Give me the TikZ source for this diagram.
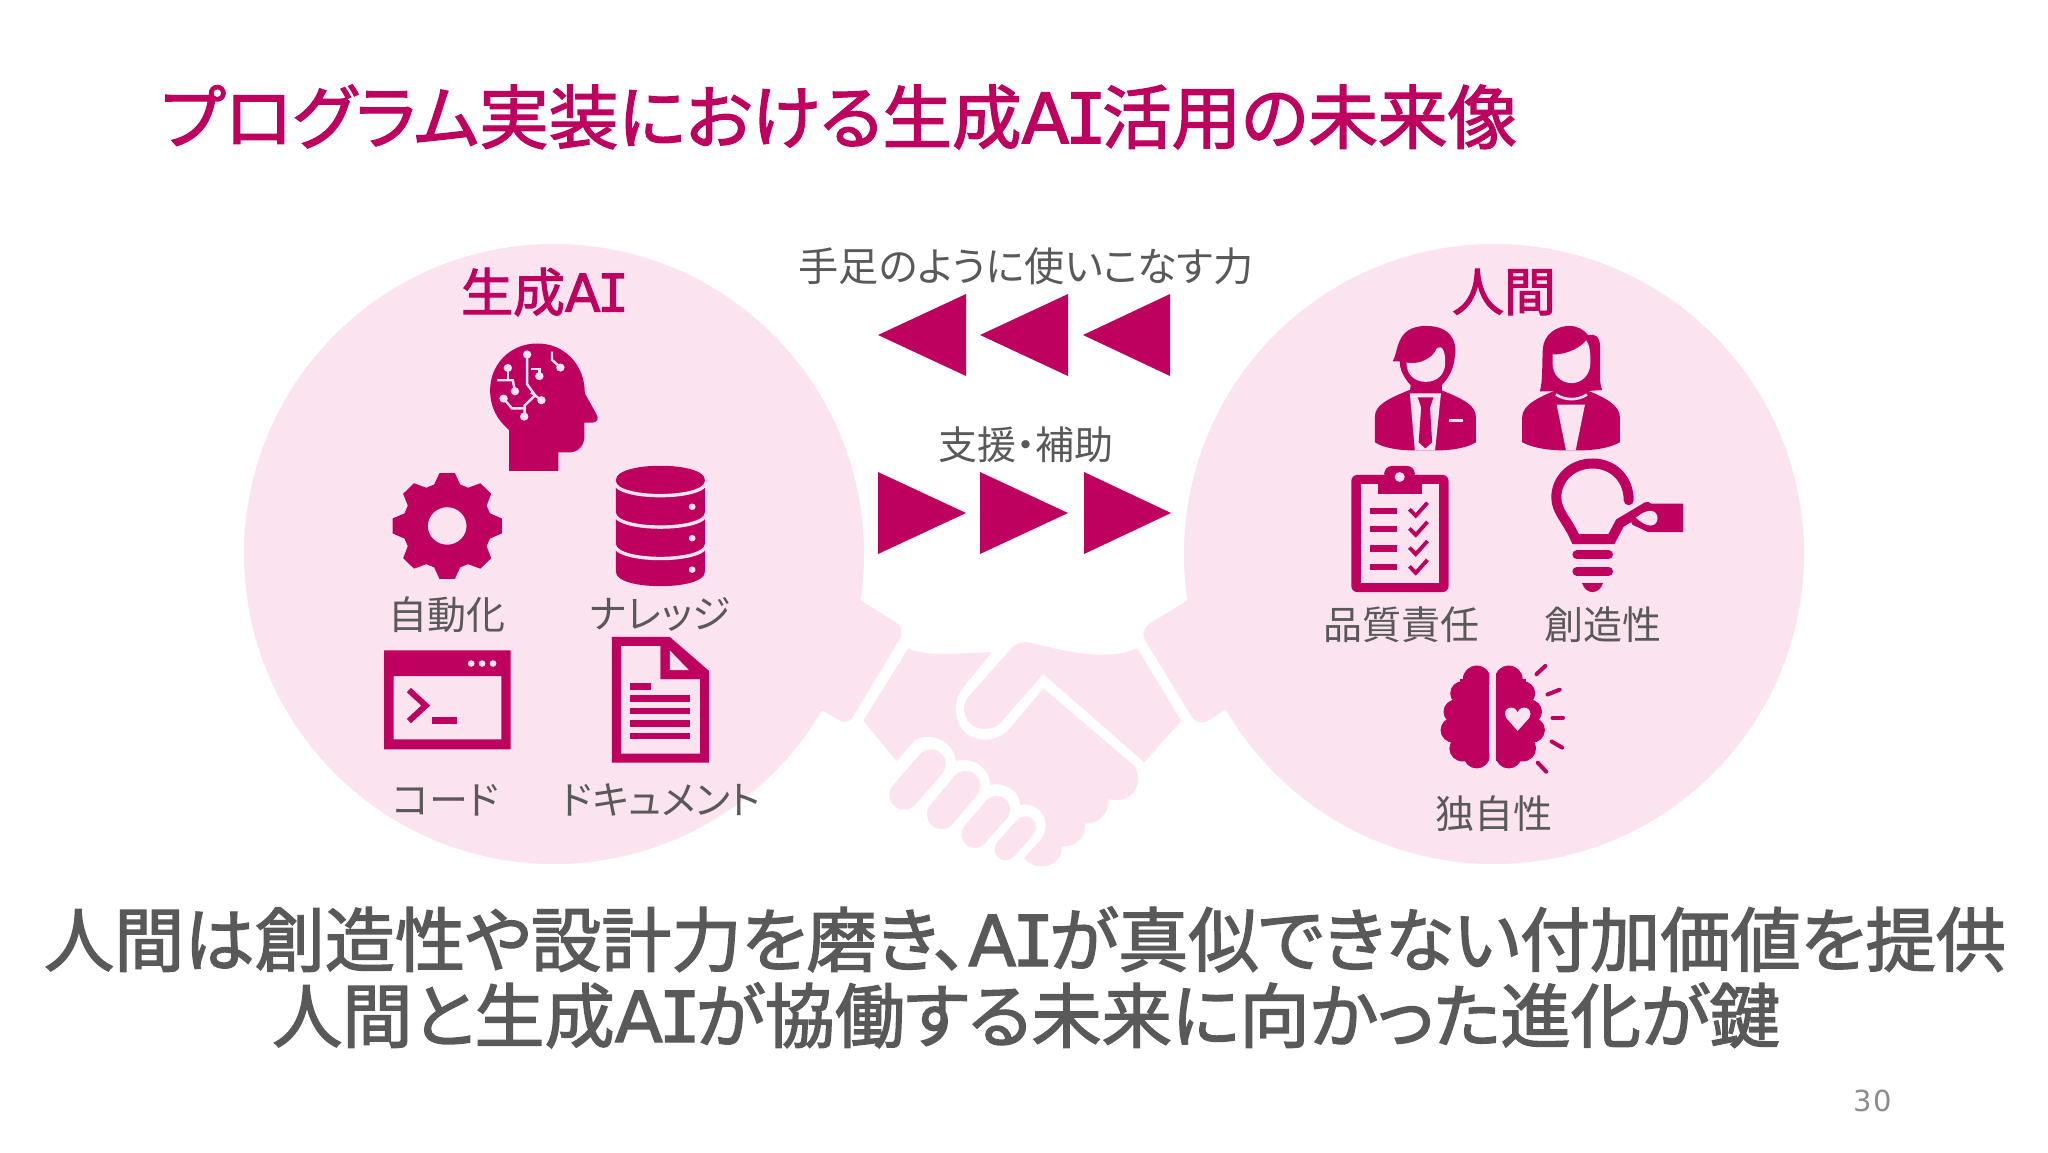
\documentclass[tikz,border=0pt]{standalone}
\usepackage{fontspec}
\setmainfont[RawFeature={+palt}]{Noto Sans CJK JP}
\newfontfamily\jpb[RawFeature={+palt},FakeBold=2]{Noto Sans CJK JP}
\newfontfamily\latb[FakeBold=2]{DejaVu Sans}
\newfontfamily\monb[FakeBold=2]{DejaVu Sans Mono}
\newfontfamily\numf[LetterSpace=6]{DejaVu Sans}
\newcommand{\AIword}{{\latb A\monb\kern-0.06em I\kern-0.07em}}
\definecolor{mag}{HTML}{BE005E}
\definecolor{pale}{HTML}{FCE3F0}
\definecolor{ink}{HTML}{595959}
\definecolor{pageno}{HTML}{8C8C8C}
\tikzset{
  px/.style={x=0.5pt,y=-0.5pt},
  zoomA/.style={shift={(230,230)},xscale=0.4209,yscale=0.4082},
  zoomB/.style={shift={(1180,230)},xscale=0.4209,yscale=0.4082},
  zoomC/.style={shift={(800,600)},scale=0.33333},
  txt/.style={inner sep=0pt,outer sep=0pt,anchor=center},
  titletxt/.style={txt,text=mag,font=\fontsize{34.8}{40}\selectfont\jpb},
  headtxt/.style={txt,text=mag,font=\fontsize{26}{30}\selectfont\jpb},
  labeltxt/.style={txt,text=ink,font=\fontsize{19.5}{24}\selectfont},
  bigtxt/.style={txt,text=ink,text height=30pt,text depth=6pt,font=\fontsize{35.1}{40}\selectfont\jpb},
  icon/.style={fill=mag,draw=none},
  hole/.style={fill=pale,draw=none},
  soft/.style={fill=pale,draw=none},
  ray/.style={draw=mag,line width=2pt,line cap=round},
  trace/.style={draw=pale,line width=1.2pt},
  finger/.style={draw=pale,line cap=round},
}
\begin{document}
\begin{tikzpicture}[px]
\useasboundingbox (0,0) rectangle (2048,1152);
\fill[white] (0,0) rectangle (2048,1152);

% circles
\fill[soft] (554,554) circle (310);
\fill[soft] (1494,554) circle (310);

% handshake
\begin{scope}[zoomC]
\fill[soft] (180,0) -- (285,65) .. controls (305,78) and (310,95) .. (300,115) -- (165,340) .. controls (155,362) and (140,372) .. (120,362) -- (65,330) -- (0,425) -- (-30,200) -- cycle;
\fill[soft] (1165,0) -- (1050,70) .. controls (1030,85) and (1025,100) .. (1035,120) -- (1175,350) .. controls (1190,370) and (1205,372) .. (1225,362) -- (1280,325) -- (1400,200) -- cycle;
\fill[soft] (1012,145) -- (1143,362) -- (1033,487) -- (730,222) -- (600,370) .. controls (580,392) and (530,395) .. (505,365) .. controls (485,340) and (490,305) .. (510,285) -- (630,150) .. controls (645,130) and (665,122) .. (690,128) .. controls (800,155) and (920,185) .. (1012,145) -- cycle;
\fill[soft] (325,145) .. controls (370,170) and (470,160) .. (575,157) -- (490,262) .. controls (455,305) and (460,375) .. (505,405) .. controls (545,430) and (600,420) .. (630,385) -- (730,265) -- (1000,495) .. controls (1025,520) and (1020,580) .. (970,598) .. controls (950,603) and (935,600) .. (925,597) .. controls (930,640) and (890,675) .. (855,670) .. controls (860,710) and (825,745) .. (785,738) .. controls (790,790) and (720,825) .. (672,775) -- (725,715) .. controls (750,680) and (735,625) .. (690,615) .. controls (680,612) and (670,612) .. (660,615) .. controls (660,570) and (610,545) .. (572,555) .. controls (565,500) and (520,470) .. (468,483) .. controls (460,420) and (390,395) .. (345,420) -- (290,483) -- (190,362) -- cycle;
\draw[finger,line width=14.7pt] (393,492) -- (312,585);
\draw[finger,line width=14.7pt] (497,557) -- (425,643);
\draw[finger,line width=13.5pt] (590,628) -- (525,703);
\draw[finger,line width=11pt] (675,682) -- (617,748);
\end{scope}

% generative AI icons
\begin{scope}[zoomA]
% head
\fill[icon] (663,590) -- (780,590) -- (780,545) -- (805,545) .. controls (830,545) and (842,525) .. (842,505) -- (842,472) -- (860,472) .. controls (872,472) and (878,462) .. (870,450) -- (843,400) .. controls (843,330) and (795,278) .. (730,278) .. controls (665,278) and (618,330) .. (618,392) .. controls (618,435) and (635,465) .. (663,490) -- cycle;
\draw[trace] (706,305) -- (706,378) -- (725,405) -- (700,430) -- (700,457);
\draw[trace] (715,340) -- (735,340) -- (735,358);
\draw[trace] (765,298) -- (765,318) -- (785,337);
\draw[trace] (660,338) -- (660,368);
\draw[trace] (635,368) -- (672,368) -- (677,395);
\draw[trace] (650,413) -- (670,437) -- (700,437);
\draw[trace] (715,398) -- (740,417);
\foreach \p in {(706,305),(735,358),(785,337),(660,338),(677,395),(650,413),(740,417),(699,457)}
  \fill[hole] \p circle (10);
% gear
\begin{scope}[shift={(516,725)}]
\fill[icon,even odd rule] (-17:106) \foreach \a in {0,45,...,315} { -- (\a-17:106) -- (\a-8:131) -- (\a+8:131) -- (\a+17:106) } -- cycle (0,0) circle (46);
\end{scope}
% database
\fill[icon] (917,612) .. controls (917,566) and (1128,566) .. (1128,612) -- (1128,838) .. controls (1128,884) and (917,884) .. (917,838) -- cycle;
\foreach \y in {617,694,771}
  \draw[draw=pale,line width=1.7pt] (913,\y) .. controls (917,{\y+45}) and (1128,{\y+45}) .. (1132,\y);
\foreach \y in {678,755,832}
  \fill[hole] (1098,\y) circle (8);
% terminal window
\fill[icon,even odd rule] (366,1030) rectangle (667,1272) (389,1093) rectangle (645,1248);
\foreach \x in {573,599,625}
  \fill[hole] (\x,1062) circle (8);
\draw[draw=mag,line width=3pt] (425,1127) -- (465,1165) -- (425,1203);
\fill[icon] (480,1192) rectangle (540,1210);
% document
\fill[icon,even odd rule] (907,997) -- (1045,997) -- (1138,1080) -- (1138,1305) -- (907,1305) -- cycle (929,1019) -- (1023,1019) -- (1023,1100) -- (1117,1100) -- (1117,1283) -- (929,1283) -- cycle;
\fill[icon] (1023,1019) -- (1045,1000) -- (1117,1085) -- (1117,1100) -- (1023,1100) -- cycle;
\fill[hole] (1045,1030) -- (1090,1078) -- (1045,1078) -- cycle;
\fill[icon] (951,1110) rectangle (1000,1126);
\foreach \y in {1140,1170,1201,1232}
  \fill[icon] (951,\y) rectangle (1094,{\y+16});
\end{scope}

% human icons
\begin{scope}[zoomB]
% man
\fill[icon] (463,520) -- (463,458) .. controls (463,430) and (490,415) .. (545,392) -- (620,392) .. controls (675,415) and (703,430) .. (703,458) -- (703,520) .. controls (680,535) and (640,540) .. (610,540) -- (555,540) .. controls (525,540) and (485,535) .. (463,520) -- cycle;
\fill[hole] (546,400) -- (620,400) -- (606,540) -- (558,540) -- cycle;
\fill[icon] (565,410) -- (602,410) -- (594,435) -- (599,520) -- (583,535) -- (567,520) -- (573,435) -- cycle;
\fill[hole] (640,463) rectangle (673,471);
\fill[icon] (505,322) .. controls (520,300) and (510,235) .. (585,235) .. controls (640,235) and (660,270) .. (653,310) .. controls (650,340) and (640,360) .. (622,380) -- (622,397) -- (546,397) -- (548,380) .. controls (530,360) and (522,340) .. (522,322) -- cycle;
\fill[hole] (538,325) .. controls (570,330) and (600,315) .. (610,290) .. controls (625,280) and (630,300) .. (630,325) .. controls (630,355) and (610,372) .. (584,372) .. controls (558,372) and (538,355) .. (538,325) -- cycle;
% woman
\fill[icon] (855,395) .. controls (862,370) and (860,330) .. (862,290) .. controls (865,255) and (895,235) .. (925,235) .. controls (945,235) and (960,245) .. (970,258) .. controls (985,252) and (998,262) .. (998,285) -- (998,360) .. controls (998,375) and (1000,385) .. (1003,392) -- (960,395) -- (900,395) -- cycle;
\fill[icon] (813,520) -- (813,458) .. controls (813,430) and (850,410) .. (895,392) -- (965,392) .. controls (1010,410) and (1045,430) .. (1045,458) -- (1045,520) .. controls (1020,535) and (980,540) .. (945,540) -- (915,540) .. controls (880,540) and (840,535) .. (813,520) -- cycle;
\fill[hole] (895,428) -- (962,428) -- (940,540) -- (917,540) -- cycle;
\draw[draw=pale,line width=1.3pt] (893,403) .. controls (915,418) and (945,418) .. (967,403);
\fill[hole] (885,305) .. controls (925,305) and (955,285) .. (965,270) .. controls (975,285) and (975,305) .. (975,325) .. controls (975,355) and (955,375) .. (930,375) .. controls (905,375) and (885,355) .. (885,325) -- cycle;
% clipboard
\fill[icon,rounded corners=3pt] (407,600) rectangle (638,887);
\fill[hole] (429,622) rectangle (616,865);
\fill[icon] (470,600) rectangle (575,647);
\fill[icon,rounded corners=4pt] (485,578) rectangle (558,615);
\fill[hole] (522,605) circle (12);
\foreach \y in {680,725,772,818} {
  \fill[icon] (452,\y) rectangle (516,{\y+16});
}
\foreach \y in {668,715,762,808} {
  \draw[draw=mag,line width=1.9pt] (545,{\y+16}) -- (560,{\y+32}) -- (588,\y);
}
% bulb
\draw[draw=mag,line width=5pt,line cap=round] (1066,662) .. controls (1066,610) and (1030,572) .. (980,572) .. controls (930,572) and (894,610) .. (894,655) .. controls (894,690) and (920,710) .. (940,757) -- (1025,757) -- (1045,718) -- (1110,678);
\fill[icon] (1110,670) -- (1195,670) -- (1195,740) -- (1112,740) -- (1075,722) -- (1065,700) -- cycle;
\fill[hole] (1083,705) .. controls (1095,695) and (1105,688) .. (1118,688) .. controls (1140,688) and (1140,724) .. (1118,724) .. controls (1105,724) and (1095,715) .. (1083,705) -- cycle;
\draw[draw=mag,line width=4.5pt,line cap=round] (943,796) -- (1018,796);
\draw[draw=mag,line width=4.5pt,line cap=round] (943,836) -- (1018,836);
\fill[icon] (955,865) -- (1005,865) .. controls (1000,880) and (990,887) .. (980,887) .. controls (970,887) and (960,880) .. (955,865) -- cycle;
% brain
\begin{scope}
\clip (600,1060) rectangle (735,1330);
\fill[icon] (705,1100) circle (33) (672,1135) circle (30) (656,1180) circle (30) (650,1225) circle (31) (672,1270) circle (32) (705,1288) circle (31);
\fill[icon] (665,1100) rectangle (735,1300);
\end{scope}
\begin{scope}
\clip (751,1060) rectangle (880,1330);
\fill[icon] (781,1100) circle (33) (814,1135) circle (30) (830,1180) circle (30) (836,1225) circle (31) (814,1270) circle (32) (781,1288) circle (31);
\fill[icon] (751,1100) rectangle (821,1300);
\end{scope}
\fill[hole] (802,1227) -- (775,1195) .. controls (763,1170) and (795,1160) .. (802,1182) .. controls (809,1160) and (842,1170) .. (830,1195) -- cycle;
\draw[ray] (847,1088) -- (868,1068);
\draw[ray] (873,1138) -- (902,1126);
\draw[ray] (885,1195) -- (910,1195);
\draw[ray] (883,1253) -- (908,1268);
\draw[ray] (850,1305) -- (870,1327);
\end{scope}

% triangles
\foreach \t/\b in {878/966,980/1068,1083/1170}
  \fill[icon] (\t,335) -- (\b,294) -- (\b,376) -- cycle;
\foreach \b/\t in {878/966,980/1068,1084/1171}
  \fill[icon] (\t,513) -- (\b,472) -- (\b,554) -- cycle;

% texts
\node[titletxt] (title) at (839,117) {プログラム実装における生成\AIword 活用の未来像};
\node[headtxt] (hleft) at (543,292) {生成\AIword};
\node[headtxt] (hright) at (1504,292) {人間};
\node[labeltxt,font=\fontsize{20.1}{24}\selectfont] (use) at (1026,266) {手足のように使いこなす力};
\node[labeltxt] (help) at (1026,445) {支援・補助};
\node[labeltxt] (auto) at (447,615) {自動化};
\node[labeltxt] (know) at (660,614) {ナレッジ};
\node[labeltxt] (code) at (446,800) {コード};
\node[labeltxt] (docu) at (661,800) {ドキュメント};
\node[labeltxt] (qual) at (1401,625) {品質責任};
\node[labeltxt] (crea) at (1603,625) {創造性};
\node[labeltxt] (uniq) at (1494,814) {独自性};
\node[bigtxt] (l1) at (1025,942) {人間は創造性や設計力を磨き、\AIword が真似できない付加価値を提供};
\node[bigtxt] (l2) at (1026,1018) {人間と生成\AIword が協働する未来に向かった進化が鍵};
\node[txt,text=pageno,font=\fontsize{14.5}{16}\selectfont\numf] (page) at (1873,1101) {30};
\end{tikzpicture}
\end{document}
